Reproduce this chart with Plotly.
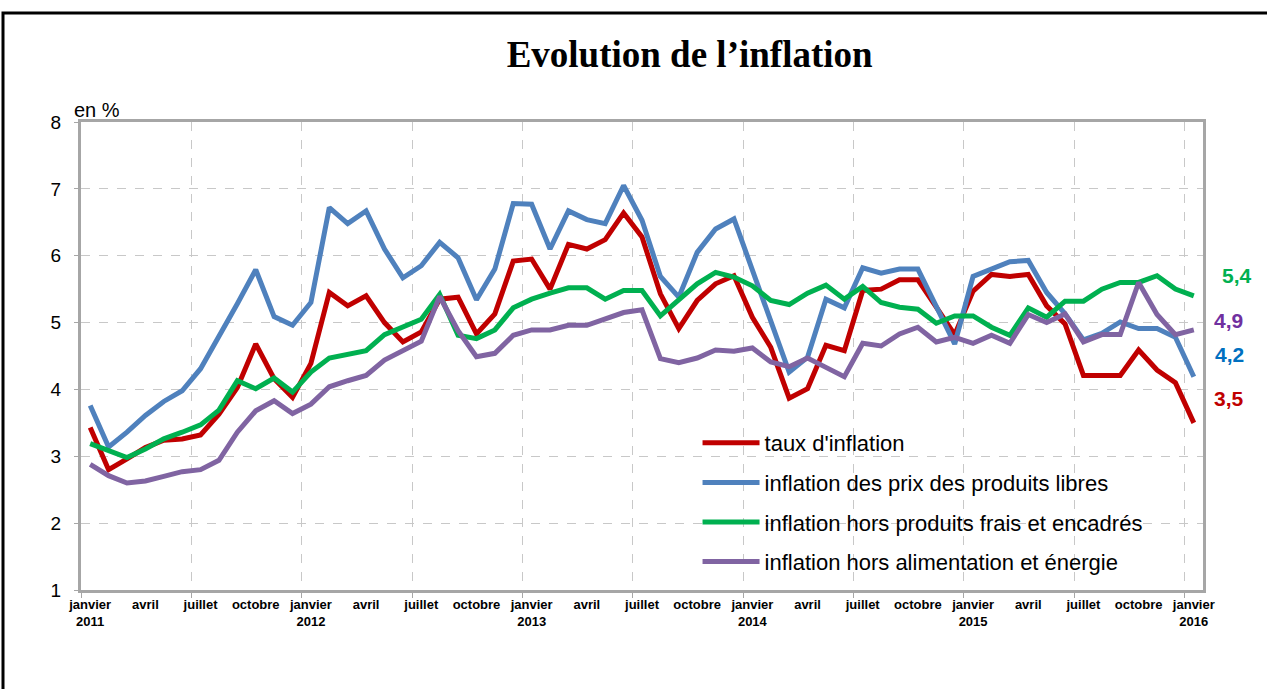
import plotly.graph_objects as go

# ---- data (janvier 2011 -> janvier 2016, monthly) ----
taux_inflation = [3.43, 2.80, 2.96, 3.13, 3.24, 3.26, 3.32, 3.63, 4.03, 4.68, 4.16, 3.88,
                  4.39, 5.45, 5.25, 5.40, 5.00, 4.71, 4.86, 5.35, 5.38, 4.83, 5.13, 5.92,
                  5.95, 5.50, 6.17, 6.10, 6.24, 6.64, 6.28, 5.43, 4.91, 5.33, 5.58, 5.70,
                  5.08, 4.63, 3.87, 4.01, 4.66, 4.58, 5.48, 5.50, 5.64, 5.64, 5.23, 4.82,
                  5.47, 5.72, 5.69, 5.72, 5.25, 4.98, 4.21, 4.21, 4.21, 4.59, 4.29, 4.10, 3.50]
prix_libres = [3.76, 3.14, 3.36, 3.61, 3.82, 3.98, 4.31, 4.78, 5.28, 5.79, 5.09, 4.96,
               5.30, 6.72, 6.48, 6.67, 6.10, 5.67, 5.85, 6.20, 5.97, 5.34, 5.80, 6.78,
               6.77, 6.10, 6.67, 6.54, 6.48, 7.05, 6.53, 5.69, 5.38, 6.05, 6.40, 6.55,
               5.79, 5.02, 4.26, 4.48, 5.35, 5.22, 5.82, 5.74, 5.80, 5.80, 5.25, 4.68,
               5.69, 5.80, 5.91, 5.93, 5.45, 5.13, 4.74, 4.84, 5.01, 4.91, 4.91, 4.78, 4.19]
hors_frais_encadres = [3.19, 3.08, 2.98, 3.11, 3.26, 3.36, 3.47, 3.69, 4.13, 4.01, 4.17, 3.96,
                       4.26, 4.47, 4.53, 4.58, 4.82, 4.94, 5.05, 5.42, 4.81, 4.76, 4.89, 5.22,
                       5.35, 5.44, 5.52, 5.52, 5.35, 5.48, 5.48, 5.10, 5.33, 5.58, 5.75, 5.68,
                       5.55, 5.33, 5.27, 5.44, 5.56, 5.35, 5.54, 5.30, 5.23, 5.20, 4.99, 5.10,
                       5.10, 4.93, 4.81, 5.22, 5.08, 5.32, 5.32, 5.50, 5.60, 5.60, 5.70, 5.50, 5.40]
hors_alim_energie = [2.88, 2.71, 2.60, 2.63, 2.70, 2.77, 2.80, 2.94, 3.36, 3.68, 3.83, 3.64,
                     3.78, 4.04, 4.13, 4.21, 4.44, 4.58, 4.72, 5.39, 4.88, 4.49, 4.54, 4.81,
                     4.89, 4.89, 4.96, 4.96, 5.05, 5.15, 5.19, 4.46, 4.40, 4.47, 4.59, 4.57,
                     4.62, 4.41, 4.34, 4.47, 4.33, 4.19, 4.69, 4.65, 4.83, 4.93, 4.71, 4.78,
                     4.69, 4.81, 4.69, 5.12, 5.00, 5.13, 4.71, 4.82, 4.82, 5.60, 5.12, 4.82, 4.89]

series_names = ["taux d'inflation",
                "inflation des prix des produits libres",
                "inflation hors produits frais et encadrés",
                "inflation hors alimentation et énergie"]
end_labels = ["3,5", "4,2", "5,4", "4,9"]

tick_labels = ["janvier<br>2011", "avril", "juillet", "octobre",
               "janvier<br>2012", "avril", "juillet", "octobre",
               "janvier<br>2013", "avril", "juillet", "octobre",
               "janvier<br>2014", "avril", "juillet", "octobre",
               "janvier<br>2015", "avril", "juillet", "octobre",
               "janvier<br>2016"]
tick_step = 3

# ---- styling ----
line_colors = ["#c00000", "#4f81bd", "#00b050", "#8064a2"]
label_colors = ["#c00000", "#0070c0", "#00b050", "#7030a0"]
label_shift = [(35, 24), (36, 22), (43, 20), (35, 9)]

all_series = [taux_inflation, prix_libres, hors_frais_encadres, hors_alim_energie]
n = len(taux_inflation)
x = list(range(n))

fig = go.Figure()
for i, (name, vals) in enumerate(zip(series_names, all_series)):
    fig.add_trace(go.Scatter(
        x=x, y=vals, mode="lines", name=name,
        line=dict(color=line_colors[i], width=5),
        legendgroup=f"g{i}",
    ))
    fig.add_annotation(
        x=x[-1], y=vals[-1], xref="x", yref="y",
        text=f"<b>{end_labels[i]}</b>", showarrow=False,
        xshift=label_shift[i][0], yshift=label_shift[i][1],
        font=dict(family="Liberation Sans, Arial", size=21, color=label_colors[i]),
    )

tickvals = list(range(0, n, tick_step))

fig.update_layout(
    width=1267, height=689,
    margin=dict(l=81, r=64, t=122, b=99),
    paper_bgcolor="white", plot_bgcolor="white",
    title=dict(text="<b>Evolution de l\u2019inflation</b>", x=0.5443, xanchor="center",
               y=0.922, yanchor="middle",
               font=dict(family="Liberation Serif, Times New Roman", size=37, color="black")),
    showlegend=True,
    legend=dict(x=0.5495, y=0.359, xanchor="left", yanchor="top",
                bgcolor="rgba(0,0,0,0)", traceorder="grouped", tracegroupgap=8,
                itemwidth=57,
                font=dict(family="Liberation Sans, Arial", size=22, color="black")),
    xaxis=dict(range=[-0.5, n - 0.5], tickmode="array", tickvals=tickvals,
               ticktext=tick_labels, showgrid=False, zeroline=False,
               showline=True, linecolor="#a6a6a6", linewidth=3, mirror=True,
               ticks="", tickfont=dict(family="Liberation Sans, Arial", size=13,
                                       color="black", weight="bold"),
               minor=dict(tick0=-0.5, dtick=6, showgrid=True, griddash="dash",
                          gridcolor="#c8c8c8", gridwidth=1, ticks="outside",
                          ticklen=5, tickcolor="#a6a6a6", tickwidth=1)),
    yaxis=dict(range=[1, 8], dtick=1, showgrid=True, griddash="dash",
               gridcolor="#c8c8c8", gridwidth=1, zeroline=False,
               showline=True, linecolor="#a6a6a6", linewidth=3, mirror=True,
               ticks="outside", ticklen=4, tickcolor="#a6a6a6",
               ticklabelstandoff=9,
               tickfont=dict(family="Liberation Sans, Arial", size=19, color="black")),
)

fig.add_annotation(text="en %", xref="paper", yref="paper",
                   x=(72 - 81) / 1122, y=(590 - 110) / 468, xanchor="left", yanchor="middle",
                   showarrow=False,
                   font=dict(family="Liberation Sans, Arial", size=20, color="black"))

# outer frame (cropped on the right and bottom)
fig.add_shape(type="rect", xref="paper", yref="paper",
              x0=(3 - 81) / 1122, x1=(1290 - 81) / 1122,
              y0=(590 - 720) / 468, y1=(590 - 13) / 468,
              line=dict(color="black", width=3), layer="below")

fig.write_html("out.html", config={"displayModeBar": False},
               post_script="document.body.style.margin='0';document.body.style.overflow='hidden';")
